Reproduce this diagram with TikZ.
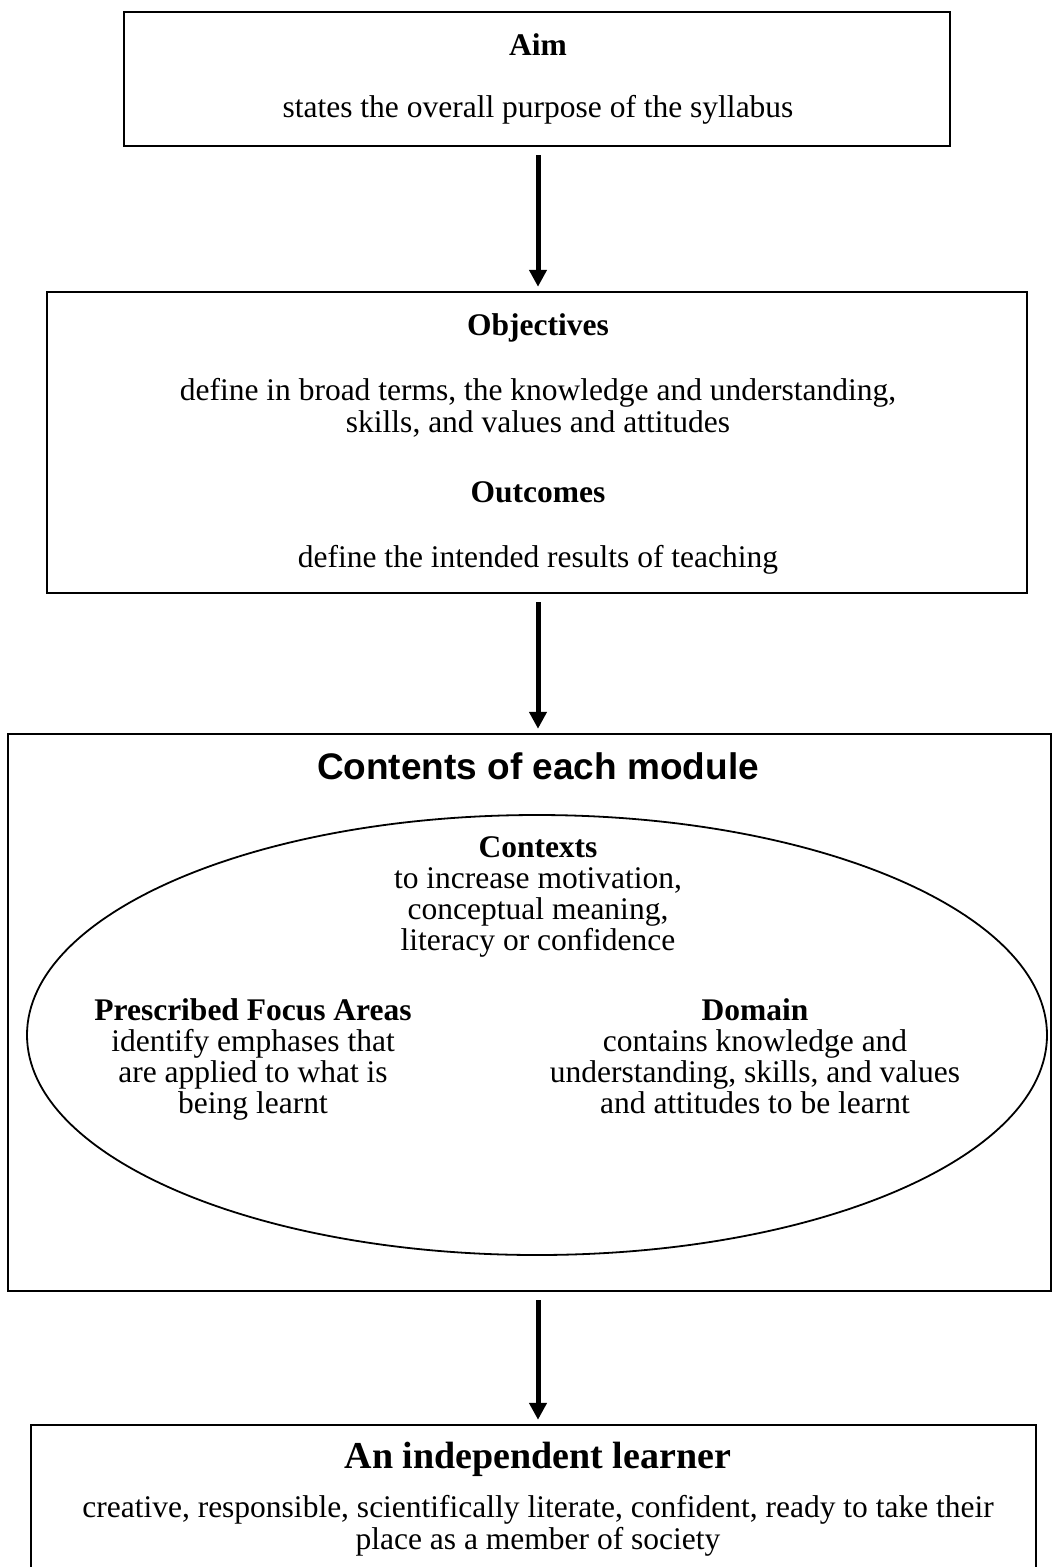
\documentclass[tikz,border=0pt]{standalone}
\usepackage{fontspec}
\setmainfont{Liberation Serif}
\newfontfamily\arialf{Liberation Sans}
\usetikzlibrary{arrows.meta,shapes.geometric}
\begin{document}
\begin{tikzpicture}[x=1pt,y=-1pt,
 box/.style={draw, line width=2.4pt, rectangle, inner sep=0pt},
 ln/.style={anchor=base, inner sep=0pt, font=\fontsize{31.5}{32}\selectfont},
 hd/.style={anchor=base, inner sep=0pt, font=\fontsize{31.5}{32}\selectfont\bfseries},
 arr/.style={line width=5pt, -{Triangle[width=17pt,length=17pt]}, shorten <=8pt, shorten >=4pt}]
\useasboundingbox (0,0) rectangle (1053,1567);
\coordinate (axis) at (538,0);
% boxes
\node[box, minimum width=826pt, minimum height=134pt] (aim) at (537,79) {};
\node[box, minimum width=980pt, minimum height=301pt] (obj) at (537,442.5) {};
\node[box, minimum width=1043pt, minimum height=557pt] (cont) at (529.5,1012.5) {};
\node[box, minimum width=1005pt, minimum height=145pt] (learn) at (533.5,1497.5) {};
\node[draw, ellipse, line width=1.8pt, minimum width=1020pt, minimum height=440pt, inner sep=0pt] (ell) at (537,1035) {};
% texts
\node[hd] (aimT) at (538,55) {Aim};
\node[ln] (aimD) at (538,117) {states the overall purpose of the syllabus};
\node[hd] (objT) at (538,335) {Objectives};
\node[ln] (objD1) at (538,400) {define in broad terms, the knowledge and understanding,};
\node[ln] (objD2) at (538,432) {skills, and values and attitudes};
\node[hd] (outT) at (538,502) {Outcomes};
\node[ln] (outD) at (538,567) {define the intended results of teaching};
\node[anchor=base, inner sep=0pt, font=\arialf\fontsize{37}{40}\selectfont\bfseries] (contT) at (538,779) {Contents of each module};
\node[hd] (ctxT) at (538,857) {Contexts};
\node[ln] (ctx1) at (538,888) {to increase motivation,};
\node[ln] (ctx2) at (538,919) {conceptual meaning,};
\node[ln] (ctx3) at (538,950) {literacy or confidence};
\node[hd] (pfaT) at (253,1020) {Prescribed Focus Areas};
\node[ln] (pfa1) at (253,1051) {identify emphases that};
\node[ln] (pfa2) at (253,1082) {are applied to what is};
\node[ln] (pfa3) at (253,1113) {being learnt};
\node[hd] (domT) at (755,1020) {Domain};
\node[ln] (dom1) at (755,1051) {contains knowledge and};
\node[ln] (dom2) at (755,1082) {understanding, skills, and values};
\node[ln] (dom3) at (755,1113) {and attitudes to be learnt};
\node[anchor=base, inner sep=0pt, font=\fontsize{38}{40}\selectfont\bfseries] (learnT) at (538,1468) {An independent learner};
\node[ln] (learn1) at (538,1517) {creative, responsible, scientifically literate, confident, ready to take their};
\node[ln] (learn2) at (538,1549) {place as a member of society};
% arrows
\draw[arr] (aim.south -| axis) -- (obj.north -| axis);
\draw[arr] (obj.south -| axis) -- (cont.north -| axis);
\draw[arr] (cont.south -| axis) -- (learn.north -| axis);
\end{tikzpicture}
\end{document}
